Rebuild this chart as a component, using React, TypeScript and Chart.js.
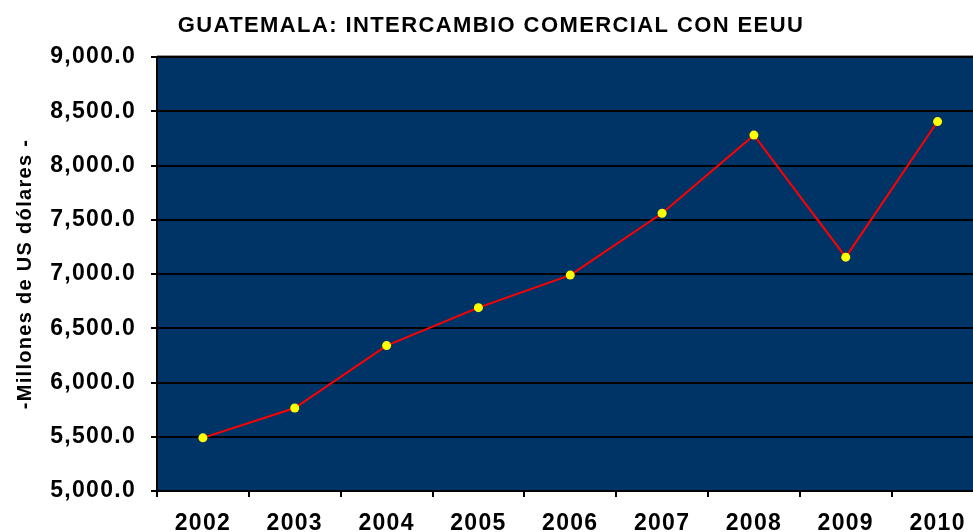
import React, { useEffect, useRef } from "react";
import { Chart, registerables } from "chart.js";

Chart.register(...registerables);

const years = ["2002", "2003", "2004", "2005", "2006", "2007", "2008", "2009", "2010"];
const intercambio = [5490, 5765, 6340, 6690, 6990, 7560, 8280, 7155, 8405];
const titleText = "GUATEMALA: INTERCAMBIO COMERCIAL CON EEUU";
const yAxisTitle = "-Millones de US dólares -";

const FONT = "Arial, 'Liberation Sans'";

const plotBg = {
  id: "plotBg",
  beforeDraw(chart: any) {
    const { ctx, chartArea } = chart;
    (ctx as any).letterSpacing = "1.3px";
    ctx.save();
    ctx.fillStyle = "#003366";
    ctx.fillRect(chartArea.left, chartArea.top, chartArea.right - chartArea.left, chartArea.bottom - chartArea.top);
    ctx.strokeStyle = "#9a9a9a";
    ctx.lineWidth = 2;
    ctx.beginPath();
    ctx.moveTo(chartArea.left, chartArea.top - 1);
    ctx.lineTo(chartArea.right, chartArea.top - 1);
    ctx.stroke();
    ctx.restore();
  },
  afterDraw(chart: any) {
    const { ctx } = chart;
    ctx.save();
    (ctx as any).letterSpacing = "1.4px";
    ctx.font = `bold 22px ${FONT}`;
    ctx.fillStyle = "#000";
    ctx.textAlign = "center";
    ctx.textBaseline = "middle";
    ctx.fillText(titleText, 491, 26);
    ctx.restore();
  },
};

export default function App() {
  const ref = useRef<HTMLCanvasElement>(null);
  useEffect(() => {
    const c = new Chart(ref.current!, {
      type: "line",
      data: {
        labels: years,
        datasets: [
          {
            data: intercambio,
            borderColor: "#ff0000",
            borderWidth: 2,
            pointBackgroundColor: "#ffff00",
            pointBorderColor: "#ffff00",
            pointRadius: 4.5,
            pointBorderWidth: 0,
            tension: 0,
          },
        ],
      },
      options: {
        animation: false,
        responsive: false,
        maintainAspectRatio: false,
        layout: { padding: { left: 0, right: 0, top: 57, bottom: 0 } },
        plugins: {
          legend: { display: false },
          tooltip: { enabled: false },
          title: { display: false },
        },
        scales: {
          x: {
            offset: true,
            grid: {
              offset: true,
              drawOnChartArea: false,
              color: "#000",
              lineWidth: 2,
              tickLength: 6,
              tickColor: "#000",
            },
            border: { color: "#000", width: 2 },
            ticks: {
              color: "#000",
              padding: 13,
              maxRotation: 0,
              font: { family: FONT, size: 23, weight: "bold" },
            },
            afterFit(scale: any) {
              scale.height = 41;
            },
          },
          y: {
            min: 5000,
            max: 9000,
            grid: {
              color: "#000",
              lineWidth: 2,
              tickLength: 6,
              tickColor: "#000",
            },
            border: { color: "#000", width: 2 },
            ticks: {
              stepSize: 500,
              color: "#000",
              padding: 15,
              font: { family: FONT, size: 23, weight: "bold" },
              callback: (v: any) =>
                Number(v).toLocaleString("en-US", { minimumFractionDigits: 1, maximumFractionDigits: 1 }),
            },
            title: {
              display: true,
              text: yAxisTitle,
              color: "#000",
              font: { family: FONT, size: 20, weight: "bold" },
              padding: { top: 13, bottom: 0 },
            },
            afterFit(scale: any) {
              scale.width = 157;
            },
          },
        },
      },
      plugins: [plotBg],
    });
    return () => c.destroy();
  }, []);
  return (
    <div style={{ position: "fixed", left: 0, top: 0, width: 973, height: 532, overflow: "hidden", background: "#fff" }}>
      <canvas ref={ref} width={988} height={532} style={{ display: "block", width: 988, height: 532 }} />
    </div>
  );
}
